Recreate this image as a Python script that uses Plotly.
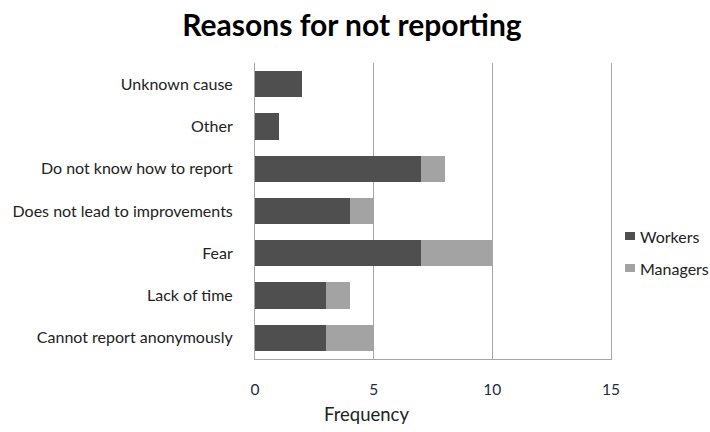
import plotly.graph_objects as go

# Reasons, listed top to bottom
reasons = [
    "Unknown cause",
    "Other",
    "Do not know how to report",
    "Does not lead to improvements",
    "Fear",
    "Lack of time",
    "Cannot report anonymously",
]
workers = [2, 1, 7, 4, 7, 3, 3]
managers = [0, 0, 1, 1, 3, 1, 2]
x_ticks = [0, 5, 10, 15]

series_names = ["Workers", "Managers"]
series_colors = ["#4f4f4f", "#a3a3a3"]

FONT = "Lato"
W, H = 710, 432
L, R, T, B = 255, 99, 63, 73
PW, PH = W - L - R, H - T - B


def px_x(px):
    """Pixel column -> paper x."""
    return (px - L) / PW


def px_y(py):
    """Pixel row -> paper y."""
    return (H - B - py) / PH


fig = go.Figure()
for name, vals, col in zip(series_names, [workers, managers], series_colors):
    fig.add_trace(go.Bar(
        y=reasons, x=vals, name=name, orientation="h",
        marker=dict(color=col, line=dict(width=0)),
        showlegend=False,
    ))

# Legend on the right: small square key plus label for each series
shapes = []
annotations = []
for i, (name, col) in enumerate(zip(series_names, series_colors)):
    cy = 236 + i * 32
    shapes.append(dict(
        type="rect", xref="paper", yref="paper",
        x0=px_x(625), x1=px_x(635), y0=px_y(cy + 4), y1=px_y(cy - 4),
        fillcolor=col, line=dict(width=0),
    ))
    annotations.append(dict(
        text=name, xref="paper", yref="paper",
        x=px_x(638), y=px_y(cy), xanchor="left", yanchor="middle",
        showarrow=False,
        font=dict(family=FONT, size=16, color="#222222"),
    ))

annotations.append(dict(
    text="Frequency",
    xref="paper", yref="paper",
    x=px_x(366), y=px_y(414),
    xanchor="center", yanchor="middle",
    showarrow=False,
    font=dict(family=FONT, size=18.5, color="#222222"),
))

fig.update_layout(
    width=W, height=H,
    barmode="stack",
    bargap=0.38,
    paper_bgcolor="white",
    plot_bgcolor="white",
    margin=dict(l=L, r=R, t=T, b=B),
    font=dict(family=FONT, size=16, color="#222222"),
    title=dict(
        text="<b>Reasons for not reporting</b>",
        x=352 / W, xanchor="center",
        y=1 - 25 / H, yanchor="middle",
        font=dict(family=FONT, size=30, color="#000000"),
    ),
    xaxis=dict(
        range=[0, 15],
        tickvals=x_ticks,
        ticktext=[str(v) for v in x_ticks],
        showgrid=True, gridcolor="#a6a6a6", gridwidth=1,
        showline=True, linecolor="#a6a6a6", linewidth=1,
        zeroline=False,
        ticks="", ticklabelstandoff=16,
        tickfont=dict(family=FONT, size=15.5, color="#1f2a44"),
        fixedrange=True,
    ),
    yaxis=dict(
        autorange="reversed",
        showgrid=False,
        showline=True, mirror=True, linecolor="#a6a6a6", linewidth=1,
        ticks="", ticklabelstandoff=18,
        tickfont=dict(family=FONT, size=16, color="#222222"),
        fixedrange=True,
    ),
    shapes=shapes,
    annotations=annotations,
    showlegend=False,
)

fig.write_html("out.html")
